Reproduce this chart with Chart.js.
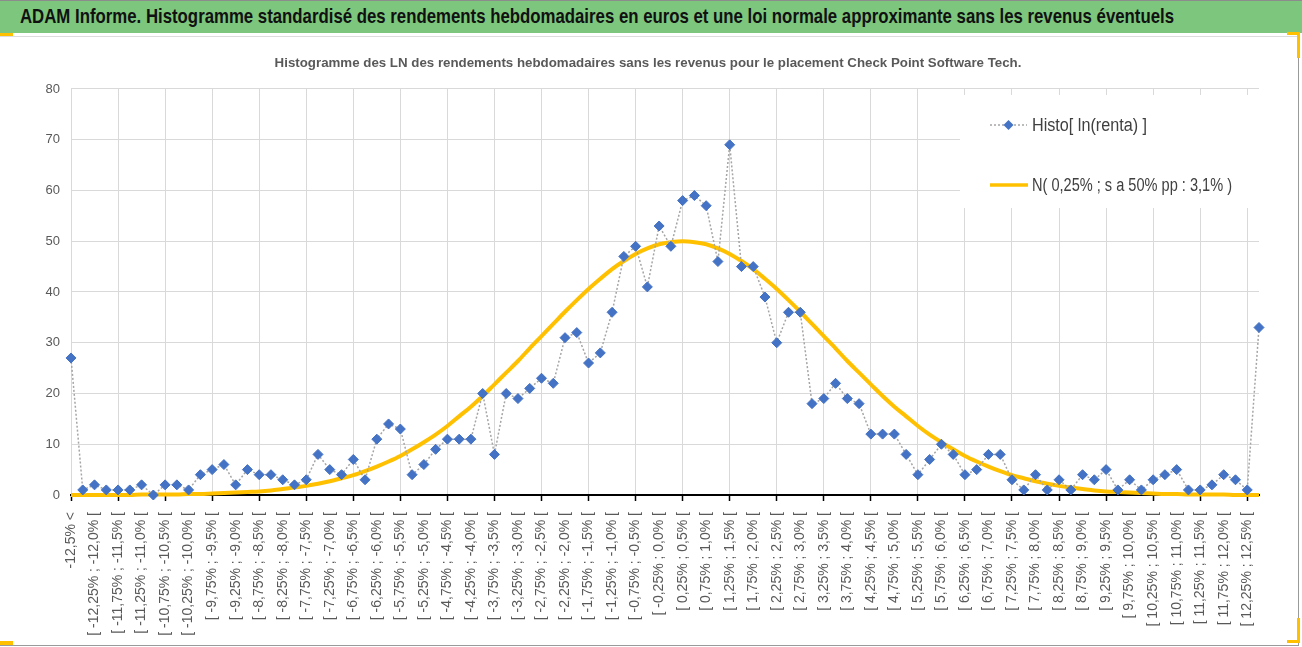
<!DOCTYPE html>
<html>
<head>
<meta charset="utf-8">
<script src="https://cdn.jsdelivr.net/npm/chart.js@4.4.1/dist/chart.umd.min.js"></script>
<style>
  html, body { margin: 0; padding: 0; background: #fff; }
  body { width: 1302px; height: 647px; position: relative; overflow: hidden; }
  #hdr { position: absolute; left: 0; top: 0; width: 1302px; height: 33px; background: #7dc67d; border-top: 1px solid #8c8c8c; box-sizing: border-box; }
  #hdr span { position: absolute; left: 20px; top: 3px; font: bold 21px 'Liberation Sans Narrow', 'Liberation Sans', sans-serif; color: #111; white-space: nowrap; transform-origin: 0 0; }
  #frame { position: absolute; left: 0; top: 36px; width: 1299px; height: 610px; border-top: 1px solid #dcdcdc; border-right: 1px solid #9a9a9a; border-bottom: 1px solid #9a9a9a; box-sizing: border-box; }
  #wrap { position: absolute; left: 0; top: 37px; width: 1296px; height: 606px; }
  .mk { position: absolute; background: #ffc000; }
</style>
</head>
<body>
<div id="hdr"><span id="hdrText">ADAM Informe. Histogramme standardisé des rendements hebdomadaires en euros et une loi normale approximante sans les revenus éventuels</span></div>
<div id="frame"></div>
<div class="mk" style="left:0;top:33px;width:13px;height:3px"></div>
<div class="mk" style="left:1287px;top:32px;width:13px;height:3px"></div>
<div class="mk" style="left:1297px;top:32px;width:3px;height:26px"></div>
<div class="mk" style="left:0;top:641px;width:13px;height:4px"></div>
<div class="mk" style="left:1287px;top:640px;width:13px;height:3px"></div>
<div class="mk" style="left:1297px;top:618px;width:3px;height:25px"></div>
<div id="wrap"><canvas id="chart" width="1296" height="606"></canvas></div>

<script>
// weekly log-return classes (0.25% wide), with the two open tails
const classes = [
  "-12,5% <",
  "[ -12,5% ; -12,25% [", "[ -12,25% ; -12,0% [", "[ -12,0% ; -11,75% [", "[ -11,75% ; -11,5% [", "[ -11,5% ; -11,25% [",
  "[ -11,25% ; -11,0% [", "[ -11,0% ; -10,75% [", "[ -10,75% ; -10,5% [", "[ -10,5% ; -10,25% [", "[ -10,25% ; -10,0% [",
  "[ -10,0% ; -9,75% [", "[ -9,75% ; -9,5% [", "[ -9,5% ; -9,25% [", "[ -9,25% ; -9,0% [", "[ -9,0% ; -8,75% [",
  "[ -8,75% ; -8,5% [", "[ -8,5% ; -8,25% [", "[ -8,25% ; -8,0% [", "[ -8,0% ; -7,75% [", "[ -7,75% ; -7,5% [",
  "[ -7,5% ; -7,25% [", "[ -7,25% ; -7,0% [", "[ -7,0% ; -6,75% [", "[ -6,75% ; -6,5% [", "[ -6,5% ; -6,25% [",
  "[ -6,25% ; -6,0% [", "[ -6,0% ; -5,75% [", "[ -5,75% ; -5,5% [", "[ -5,5% ; -5,25% [", "[ -5,25% ; -5,0% [",
  "[ -5,0% ; -4,75% [", "[ -4,75% ; -4,5% [", "[ -4,5% ; -4,25% [", "[ -4,25% ; -4,0% [", "[ -4,0% ; -3,75% [",
  "[ -3,75% ; -3,5% [", "[ -3,5% ; -3,25% [", "[ -3,25% ; -3,0% [", "[ -3,0% ; -2,75% [", "[ -2,75% ; -2,5% [",
  "[ -2,5% ; -2,25% [", "[ -2,25% ; -2,0% [", "[ -2,0% ; -1,75% [", "[ -1,75% ; -1,5% [", "[ -1,5% ; -1,25% [",
  "[ -1,25% ; -1,0% [", "[ -1,0% ; -0,75% [", "[ -0,75% ; -0,5% [", "[ -0,5% ; -0,25% [", "[ -0,25% ; 0,0% [",
  "[ 0,0% ; 0,25% [", "[ 0,25% ; 0,5% [", "[ 0,5% ; 0,75% [", "[ 0,75% ; 1,0% [", "[ 1,0% ; 1,25% [",
  "[ 1,25% ; 1,5% [", "[ 1,5% ; 1,75% [", "[ 1,75% ; 2,0% [", "[ 2,0% ; 2,25% [", "[ 2,25% ; 2,5% [",
  "[ 2,5% ; 2,75% [", "[ 2,75% ; 3,0% [", "[ 3,0% ; 3,25% [", "[ 3,25% ; 3,5% [", "[ 3,5% ; 3,75% [",
  "[ 3,75% ; 4,0% [", "[ 4,0% ; 4,25% [", "[ 4,25% ; 4,5% [", "[ 4,5% ; 4,75% [", "[ 4,75% ; 5,0% [",
  "[ 5,0% ; 5,25% [", "[ 5,25% ; 5,5% [", "[ 5,5% ; 5,75% [", "[ 5,75% ; 6,0% [", "[ 6,0% ; 6,25% [",
  "[ 6,25% ; 6,5% [", "[ 6,5% ; 6,75% [", "[ 6,75% ; 7,0% [", "[ 7,0% ; 7,25% [", "[ 7,25% ; 7,5% [",
  "[ 7,5% ; 7,75% [", "[ 7,75% ; 8,0% [", "[ 8,0% ; 8,25% [", "[ 8,25% ; 8,5% [", "[ 8,5% ; 8,75% [",
  "[ 8,75% ; 9,0% [", "[ 9,0% ; 9,25% [", "[ 9,25% ; 9,5% [", "[ 9,5% ; 9,75% [", "[ 9,75% ; 10,0% [",
  "[ 10,0% ; 10,25% [", "[ 10,25% ; 10,5% [", "[ 10,5% ; 10,75% [", "[ 10,75% ; 11,0% [", "[ 11,0% ; 11,25% [",
  "[ 11,25% ; 11,5% [", "[ 11,5% ; 11,75% [", "[ 11,75% ; 12,0% [", "[ 12,0% ; 12,25% [", "[ 12,25% ; 12,5% [",
  "12,5% >"
];

// observed counts per class
const histo = [
  27, 1, 2, 1, 1, 1, 2, 0, 2, 2,
  1, 4, 5, 6, 2, 5, 4, 4, 3, 2,
  3, 8, 5, 4, 7, 3, 11, 14, 13, 4,
  6, 9, 11, 11, 11, 20, 8, 20, 19, 21,
  23, 22, 31, 32, 26, 28, 36, 47, 49, 41,
  53, 49, 58, 59, 57, 46, 69, 45, 45, 39,
  30, 36, 36, 18, 19, 22, 19, 18, 12, 12,
  12, 8, 4, 7, 10, 8, 4, 5, 8, 8,
  3, 1, 4, 1, 3, 1, 4, 3, 5, 1,
  3, 1, 3, 4, 5, 1, 1, 2, 4, 3,
  1, 33
];

// approximating normal curve
const normale = [
  0.0, 0.0, 0.0, 0.0, 0.0, 0.0, 0.1, 0.1, 0.1, 0.1,
  0.2, 0.2, 0.3, 0.4, 0.5, 0.6, 0.7, 0.9, 1.2, 1.5,
  1.8, 2.2, 2.7, 3.3, 3.9, 4.7, 5.6, 6.6, 7.7, 9.0,
  10.4, 11.9, 13.6, 15.5, 17.4, 19.5, 21.8, 24.1, 26.4, 28.9,
  31.3, 33.7, 36.1, 38.4, 40.6, 42.6, 44.5, 46.1, 47.5, 48.6,
  49.4, 49.8, 50.0, 49.8, 49.4, 48.6, 47.5, 46.1, 44.5, 42.6,
  40.6, 38.4, 36.1, 33.7, 31.3, 28.9, 26.4, 24.1, 21.8, 19.5,
  17.4, 15.5, 13.6, 11.9, 10.4, 9.0, 7.7, 6.6, 5.6, 4.7,
  3.9, 3.3, 2.7, 2.2, 1.8, 1.5, 1.2, 0.9, 0.7, 0.6,
  0.5, 0.4, 0.3, 0.2, 0.2, 0.1, 0.1, 0.1, 0.1, 0.0,
  0.0, 0.0
];

const yTicks = [0, 10, 20, 30, 40, 50, 60, 70, 80];

const seriesNames = ["Histo[ ln(renta) ]", "N( 0,25% ; s a 50% pp : 3,1% )"];
const chartTitle = "Histogramme des LN des rendements hebdomadaires sans les revenus pour le placement Check Point Software Tech.";

const BLUE = '#4472c4', GOLD = '#ffc000', DOTS = '#a5a5a5', TXT = '#595959';
const narrow = "'Liberation Sans Narrow', 'Liberation Sans', sans-serif";

// legend sitting inside the plot, top right, on a white box
const boxLegend = {
  id: 'boxLegend',
  afterDraw(chart) {
    const ctx = chart.ctx, a = chart.chartArea;
    const left = a.right - 299, top = a.top + 6;
    ctx.save();
    ctx.fillStyle = '#fff';
    ctx.fillRect(left, top, 299, 113);
    const rows = [
      { y: a.top + 36, w: 115 },
      { y: a.top + 96, w: 200 }
    ];
    const x0 = a.right - 269, x1 = a.right - 232, tx = a.right - 227;
    // dotted line with diamond
    ctx.strokeStyle = DOTS; ctx.lineWidth = 1.5; ctx.setLineDash([2, 2]);
    ctx.beginPath(); ctx.moveTo(x0, rows[0].y); ctx.lineTo(x1, rows[0].y); ctx.stroke();
    ctx.setLineDash([]);
    ctx.fillStyle = BLUE; ctx.strokeStyle = BLUE; ctx.lineWidth = 1;
    Chart.helpers.drawPoint(ctx, { pointStyle: 'rectRot', radius: 5, rotation: 0 }, (x0 + x1) / 2, rows[0].y);
    // thick gold line
    ctx.strokeStyle = GOLD; ctx.lineWidth = 3.5;
    ctx.beginPath(); ctx.moveTo(x0, rows[1].y); ctx.lineTo(x1 + 1, rows[1].y); ctx.stroke();
    // labels
    ctx.fillStyle = '#404040';
    ctx.font = '18px ' + narrow;
    ctx.textBaseline = 'middle';
    seriesNames.forEach((name, i) => {
      const m = ctx.measureText(name).width;
      ctx.save();
      ctx.translate(tx, rows[i].y);
      ctx.scale(rows[i].w / m, 1);
      ctx.fillText(name, 0, 1);
      ctx.restore();
    });
    ctx.restore();
  }
};

const ctx = document.getElementById('chart').getContext('2d');
const chart = new Chart(ctx, {
  type: 'line',
  data: {
    labels: classes,
    datasets: [
      {
        label: seriesNames[0],
        data: histo,
        borderColor: DOTS,
        borderWidth: 1.5,
        borderDash: [2, 2],
        pointStyle: 'rectRot',
        pointRadius: 5,
        pointBackgroundColor: BLUE,
        pointBorderColor: BLUE,
        pointBorderWidth: 1,
        tension: 0,
        clip: false
      },
      {
        label: seriesNames[1],
        data: normale,
        borderColor: GOLD,
        borderWidth: 4,
        pointRadius: 0,
        cubicInterpolationMode: 'monotone',
        clip: false
      }
    ]
  },
  options: {
    responsive: false,
    animation: false,
    devicePixelRatio: 1,
    layout: { padding: { left: 37, right: 37, top: 0, bottom: 0 } },
    plugins: {
      legend: { display: false },
      tooltip: { enabled: false },
      title: {
        display: true,
        text: chartTitle,
        color: TXT,
        font: { size: 13.3, weight: 'bold', family: narrow },
        padding: { top: 18, bottom: 18 }
      }
    },
    scales: {
      x: {
        offset: false,
        afterFit: s => { s.height = 148; },
        border: { color: '#000', width: 2 },
        grid: {
          color: c => (c.index % 4 === 0 ? '#d9d9d9' : 'rgba(0,0,0,0)'),
          tickColor: c => (c.index % 4 === 0 ? '#000' : 'rgba(0,0,0,0)'),
          tickLength: 6,
          tickWidth: 1.5
        },
        ticks: {
          autoSkip: false,
          minRotation: 90,
          maxRotation: 90,
          padding: 11,
          color: TXT,
          font: { size: 14, family: "'Liberation Sans', sans-serif" },
          callback: function (v, i) { return i % 2 === 0 ? this.getLabelForValue(v) : ''; }
        }
      },
      y: {
        min: yTicks[0],
        max: yTicks[yTicks.length - 1],
        afterFit: s => { s.width = 34; },
        afterBuildTicks: s => { s.ticks = yTicks.map(v => ({ value: v })); },
        border: { display: false },
        grid: { color: '#d9d9d9', drawTicks: false },
        ticks: {
          padding: 11,
          color: TXT,
          font: { size: 13, family: "'Liberation Sans', sans-serif" }
        }
      }
    }
  },
  plugins: [boxLegend]
});

// squeeze the banner title to the width it has in the report
const ht = document.getElementById('hdrText');
ht.style.transform = 'scaleX(' + (1154 / ht.getBoundingClientRect().width) + ')';
</script>
</body>
</html>
